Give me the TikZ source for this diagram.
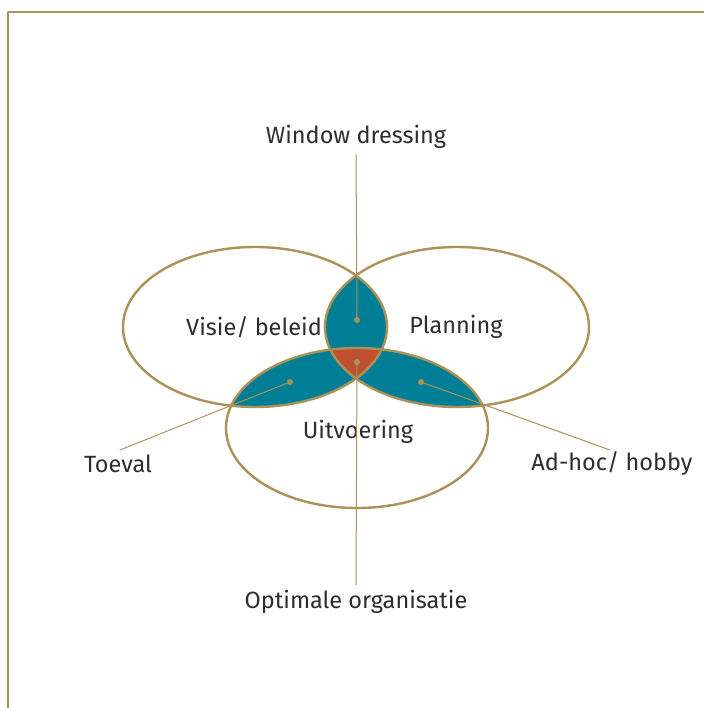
\documentclass[tikz,border=0pt]{standalone}
\usepackage{fontspec}
\setmainfont{Fira Sans}
\definecolor{gold}{RGB}{170,146,88}
\definecolor{teal}{RGB}{0,126,150}
\definecolor{rust}{RGB}{190,80,48}
\definecolor{ink}{RGB}{45,45,45}
\tikzset{
  lbl/.style={text=ink,font=\fontsize{23.5}{27}\selectfont,inner sep=1pt},
  rand/.style={gold,line width=2.4pt},
  wijzer/.style={gold,line width=1pt},
  stip/.style={fill=gold,draw=none}
}
\begin{document}
\begin{tikzpicture}[x=1pt,y=-1pt,line join=round,line cap=round]
		\useasboundingbox (0,0) rectangle (704,708);
		%kader
		\draw[gold,line width=2.6pt,line cap=butt] (8,708)--(8,12)--(704,12);
		%middelpunten
		\coordinate (visie) at (255,327);
		\coordinate (plan) at (457,327);
		\coordinate (uitv) at (357,428);
		%doorsneden
		\begin{scope}
			\clip (visie) ellipse [x radius=132,y radius=80];
			\fill[teal] (plan) ellipse [x radius=132,y radius=80];
			\fill[teal] (uitv) ellipse [x radius=131,y radius=80];
		\end{scope}
		\begin{scope}
			\clip (plan) ellipse [x radius=132,y radius=80];
			\fill[teal] (uitv) ellipse [x radius=131,y radius=80];
			\clip (visie) ellipse [x radius=132,y radius=80];
			\fill[rust] (uitv) ellipse [x radius=131,y radius=80];
		\end{scope}
		%ellipsen
		\draw[rand] (visie) ellipse [x radius=132,y radius=80];
		\draw[rand] (plan) ellipse [x radius=132,y radius=80];
		\draw[rand] (uitv) ellipse [x radius=131,y radius=80];
		%teksten
		\node[lbl] (visieT) at (254,327) {Visie/ beleid};
		\node[lbl] (planT) at (456,327) {Planning};
		\node[lbl] (uitvT) at (358,432) {Uitvoering};
		\node[lbl,anchor=south] (window) at (356,150) {Window dressing};
		\node[lbl,anchor=north] (optimaal) at (356,589) {Optimale organisatie};
		\node[lbl] (toeval) at (118,464) {Toeval};
		\node[lbl] (adhoc) at (612,464) {Ad-hoc/ hobby};
		%punten
		\coordinate (p1) at (357,320);
		\coordinate (p2) at (357,362);
		\coordinate (p3) at (290,382);
		\coordinate (p4) at (421,382);
		\coordinate (t1) at (120,450);
		\coordinate (t2) at (610,450);
		\draw[wijzer] (window.south)++(0,5) -- (p1);
		\draw[wijzer] (optimaal.north)++(0,-4) -- (p2);
		\draw[wijzer] (t1) -- (p3);
		\draw[wijzer] (t2) -- (p4);
		\foreach \p in {p1,p2,p3,p4} \fill[stip] (\p) circle (3pt);
	\end{tikzpicture}
\end{document}
